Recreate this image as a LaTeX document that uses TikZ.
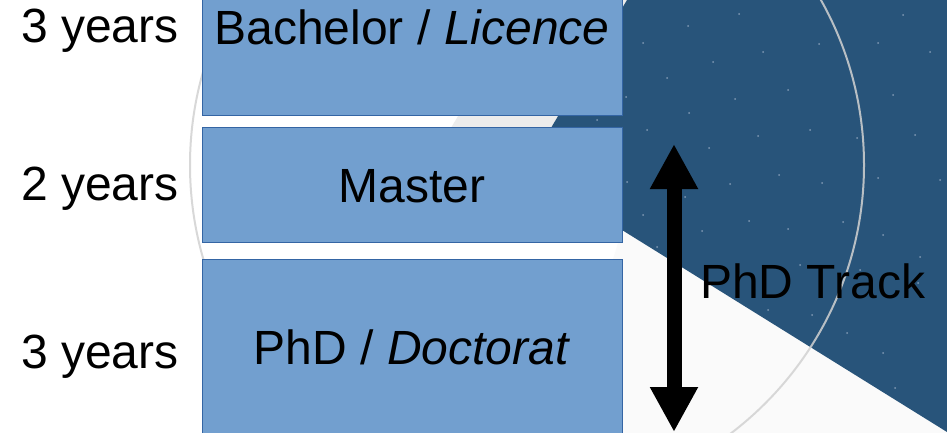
\documentclass[tikz,border=0pt]{standalone}
\usepackage{fontspec}
\setmainfont{Liberation Sans}
\usetikzlibrary{arrows.meta}
\definecolor{boxfill}{HTML}{729FCF}
\definecolor{boxline}{HTML}{3465A4}
\definecolor{night}{HTML}{28547A}
\definecolor{stardot}{HTML}{7F98B3}
\definecolor{band}{HTML}{ECECEC}
\definecolor{ringgray}{HTML}{D2D2D2}
\tikzset{
  yearbox/.style={draw=boxline, line width=1pt, fill=boxfill, minimum width=420pt, anchor=north west, inner sep=0pt},
  bigtext/.style={font=\fontsize{48pt}{57pt}\selectfont, anchor=base, inner sep=0pt, text=black},
}
\begin{document}
\begin{tikzpicture}[x=1pt,y=-1pt]
\useasboundingbox (0,0) rectangle (947,433);
% background
\fill[white] (0,0) rectangle (947,433);
\fill[black!2] (622,230) -- (947,432) -- (947,433) -- (560,433) -- cycle;
% light gray band
\fill[band] (527,0) -- (627,0) -- (526,170) -- (426,170) -- cycle;
% dark starry region
\fill[night] (627,0) -- (947,0) -- (947,432) -- (622,230) -- (526,170) -- cycle;
\begin{scope}
\clip (627,0) -- (947,0) -- (947,432) -- (622,230) -- (526,170) -- cycle;
\foreach \p in {(739,14),(688,26),(643,43),(713,62),(763,52),(819,44),(667,78),(735,99),(788,90),(626,97),(689,113),(647,130),(709,148),(758,136),(810,130),(857,138),(915,135),(930,52),(878,43),(627,182),(685,197),(730,184),(779,175),(822,183),(878,178),(643,215),(702,231),(749,221),(788,229),(843,222),(883,235),(920,257),(657,247),(768,310),(812,315),(847,333),(883,353),(895,388),(918,283),(893,95),(597,120),(903,15),(940,180),(860,270),(800,265)}
  \fill[stardot] \p circle (1);
\end{scope}
% ring
\draw[ringgray, line width=2pt, opacity=0.85] (527,165) circle (337);
% boxes
\node[yearbox, minimum height=125pt] (b1) at (202,-10) {};
\node[yearbox, minimum height=115pt] (b2) at (202,127) {};
\node[yearbox, minimum height=185pt] (b3) at (202,259) {};
% texts
\node[bigtext] (t1) at (412,45) {Bachelor / \textit{Licence}};
\node[bigtext] (t2) at (412,202) {Master};
\node[bigtext] (t3) at (412,364) {PhD / \textit{Doctorat}};
\node[bigtext] (y1) at (100,43) {3 years};
\node[bigtext] (y2) at (100,200) {2 years};
\node[bigtext] (y3) at (100,368) {3 years};
% arrow
\coordinate (atop) at (674,144);
\coordinate (abot) at (674,432);
\draw[line width=15pt, {Triangle[width=45pt,length=45pt]}-{Triangle[width=45pt,length=45pt]}] (atop) -- (abot);
\node[bigtext, anchor=base west] (trk) at (700,298) {PhD Track};
\end{tikzpicture}
\end{document}
